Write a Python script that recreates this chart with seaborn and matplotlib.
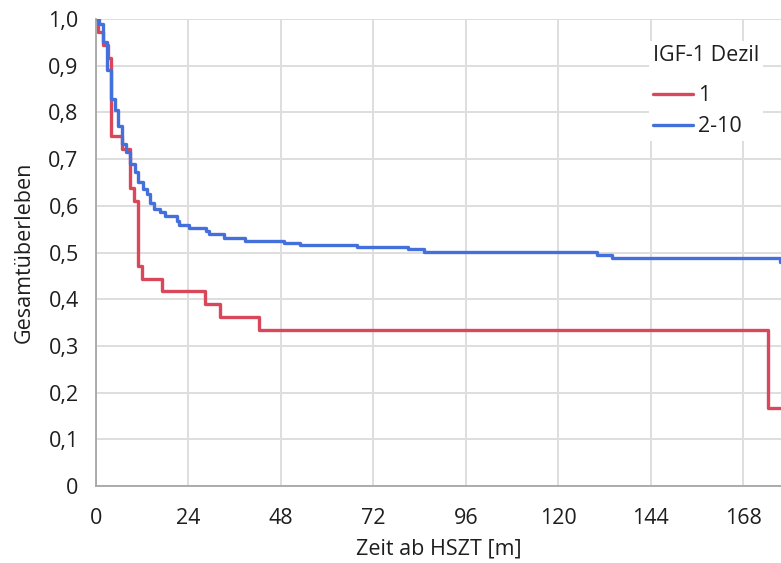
import matplotlib
matplotlib.use("Agg")
import matplotlib.pyplot as plt
import pandas as pd
import seaborn as sns
from matplotlib.ticker import MultipleLocator

# Kaplan-Meier Schätzung des Gesamtüberlebens nach IGF-1 Dezil
group_labels = ["1", "2-10"]

months_decile_1 = [0, 0.5, 1.8, 3.0, 3.8, 6.7, 8.8, 9.9, 11.0, 11.9, 17.0,
                   28.3, 32.2, 42.4, 174.5, 178.0]
survival_decile_1 = [1.0, 0.972, 0.944, 0.917, 0.750, 0.722, 0.639, 0.611,
                     0.472, 0.444, 0.417, 0.389, 0.361, 0.333, 0.167, 0.167]

months_decile_2_10 = [0, 0.8, 1.9, 2.8, 3.9, 4.9, 5.8, 6.8, 7.8, 8.8, 10.0,
                      11.0, 12.1, 13.2, 14.0, 15.1, 16.6, 17.9, 21.0, 21.6,
                      24.2, 28.5, 29.3, 33.1, 38.8, 48.7, 53.0, 67.7, 81.0,
                      85.0, 130.0, 134.0, 177.5, 178.0]
survival_decile_2_10 = [1.0, 0.99, 0.95, 0.89, 0.828, 0.806, 0.77, 0.733,
                        0.715, 0.69, 0.672, 0.65, 0.637, 0.626, 0.605, 0.594,
                        0.587, 0.578, 0.568, 0.558, 0.552, 0.546, 0.539,
                        0.532, 0.525, 0.52, 0.516, 0.511, 0.507, 0.502,
                        0.494, 0.489, 0.48, 0.48]

x_ticks = [0, 24, 48, 72, 96, 120, 144, 168]
x_tick_labels = ["0", "24", "48", "72", "96", "120", "144", "168"]
y_ticks = [0, 0.1, 0.2, 0.3, 0.4, 0.5, 0.6, 0.7, 0.8, 0.9, 1.0]
y_tick_labels = ["0", "0,1", "0,2", "0,3", "0,4", "0,5", "0,6", "0,7",
                 "0,8", "0,9", "1,0"]

x_label = "Zeit ab HSZT [m]"
y_label = "Gesamtüberleben"
legend_title = "IGF-1 Dezil"

colors = ["#D9475B", "#4470DC"]
grid_color = "#DEDEDE"
axis_color = "#A6A6A6"
text_color = "#1E1E1E"
font_size = 15.5

df = pd.concat([
    pd.DataFrame({"Monate": months_decile_1, "Überleben": survival_decile_1,
                  legend_title: group_labels[0]}),
    pd.DataFrame({"Monate": months_decile_2_10, "Überleben": survival_decile_2_10,
                  legend_title: group_labels[1]}),
], ignore_index=True)

sns.set_style("white")
plt.rcParams["font.family"] = ["Open Sans", "DejaVu Sans"]
plt.rcParams["font.size"] = font_size

fig = plt.figure(figsize=(7.81, 5.63), dpi=100)
ax = fig.add_axes([96 / 781, 1 - 486 / 563, 1 - 96 / 781, (486 - 19) / 563])

sns.lineplot(data=df, x="Monate", y="Überleben", hue=legend_title,
             hue_order=group_labels, palette=colors, drawstyle="steps-post",
             estimator=None, errorbar=None, linewidth=2.4, ax=ax)

ax.set_xlim(0, 685 / 3.853)
ax.set_ylim(0, 1.0)
ax.set_xticks(x_ticks)
ax.set_xticklabels(x_tick_labels)
ax.set_yticks(y_ticks)
ax.set_yticklabels(y_tick_labels)
ax.xaxis.set_minor_locator(MultipleLocator(12))
ax.yaxis.set_minor_locator(MultipleLocator(0.05))

ax.grid(True, which="major", color=grid_color, linewidth=1.4)
ax.set_axisbelow(True)
for side in ("top", "right"):
    ax.spines[side].set_visible(False)
for side in ("left", "bottom"):
    ax.spines[side].set_color(axis_color)
    ax.spines[side].set_linewidth(1.3)

ax.tick_params(which="major", direction="out", length=8.5, width=1.2,
               color=axis_color, labelsize=font_size, labelcolor=text_color,
               pad=4)
ax.tick_params(which="minor", direction="out", length=4.5, width=1.2,
               color=axis_color)
ax.tick_params(axis="x", which="major", pad=7)

ax.set_xlabel(x_label, fontsize=font_size, color=text_color, labelpad=7)
ax.set_ylabel(y_label, fontsize=font_size, color=text_color, labelpad=9.5)

sns.move_legend(ax, "upper left", bbox_to_anchor=(0.791, 0.9756),
                frameon=True, facecolor="white", edgecolor="none",
                framealpha=1.0, fancybox=False, title=legend_title,
                fontsize=font_size, title_fontsize=font_size,
                handlelength=1.85, handletextpad=0.25, labelspacing=0.46,
                borderpad=0.2, alignment="left")
leg = ax.get_legend()
leg._legend_box.sep = 13.5  # extra room between title and entries
for line in leg.get_lines():
    line.set_linewidth(2.4)
for txt in leg.get_texts():
    txt.set_color(text_color)
leg.get_title().set_color(text_color)

fig.savefig("out.png", dpi=100)
